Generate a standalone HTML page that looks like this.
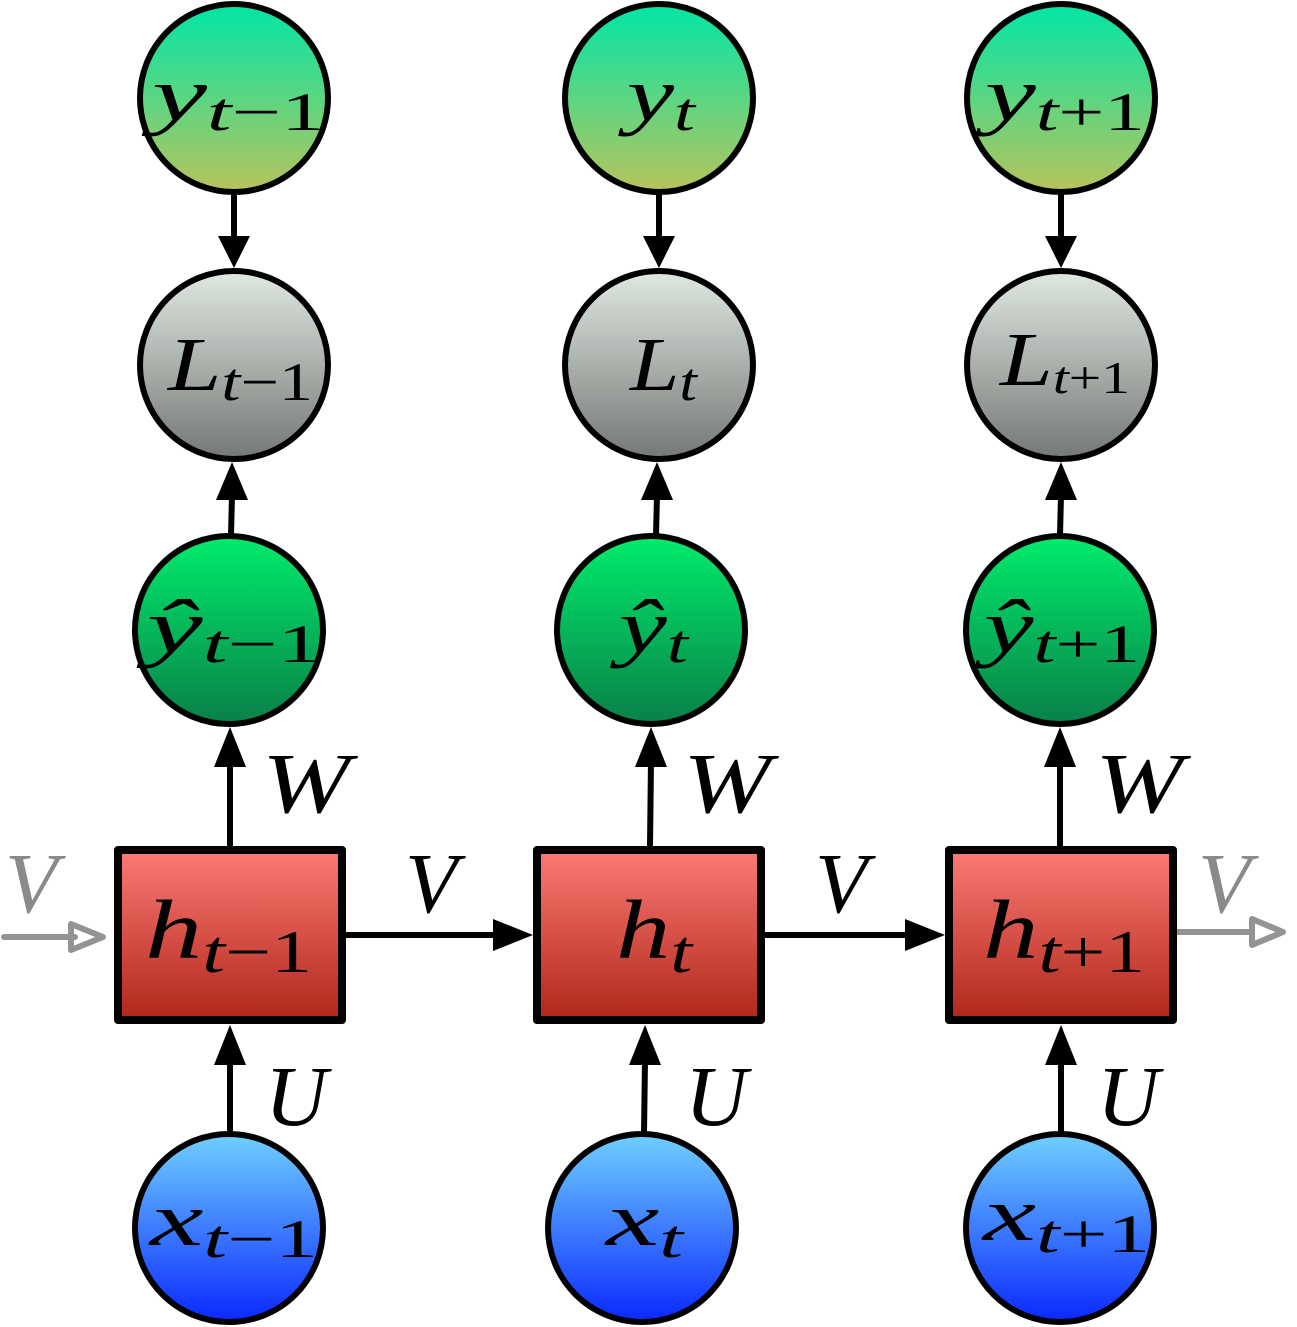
<!DOCTYPE html>
<html><head><meta charset="utf-8"><style>
html,body{margin:0;padding:0;background:#fff;}
svg{display:block}
text{font-family:"Liberation Serif",serif;font-style:italic;fill:#000}
</style></head><body>
<svg width="1297" height="1327" viewBox="0 0 1297 1327" xmlns="http://www.w3.org/2000/svg">
<defs>
<linearGradient id="gy" x1="0" y1="0" x2="0" y2="1"><stop offset="0" stop-color="#00e6a8"/><stop offset="1" stop-color="#b7c45c"/></linearGradient>
<linearGradient id="gl" x1="0" y1="0" x2="0" y2="1"><stop offset="0" stop-color="#e0e8e2"/><stop offset="1" stop-color="#757875"/></linearGradient>
<linearGradient id="gh" x1="0" y1="0" x2="0" y2="1"><stop offset="0" stop-color="#00ec6c"/><stop offset="1" stop-color="#0a8048"/></linearGradient>
<linearGradient id="gr" x1="0" y1="0" x2="0" y2="1"><stop offset="0" stop-color="#fb7b74"/><stop offset="1" stop-color="#b0261a"/></linearGradient>
<linearGradient id="gx" x1="0" y1="0" x2="0" y2="1"><stop offset="0" stop-color="#70d0ff"/><stop offset="1" stop-color="#0a28ff"/></linearGradient>
</defs>
<g stroke="#000" stroke-width="6">
<line x1="234" y1="193" x2="234" y2="240"/><line x1="659" y1="193" x2="659" y2="240"/><line x1="1061" y1="193" x2="1061" y2="240"/>
<line x1="231" y1="535" x2="232" y2="495"/><line x1="656" y1="535" x2="657" y2="495"/><line x1="1060" y1="535" x2="1061" y2="495"/>
<line x1="230" y1="846" x2="230" y2="760"/><line x1="650" y1="846" x2="651" y2="760"/><line x1="1060" y1="846" x2="1060" y2="760"/>
<line x1="230" y1="1133" x2="230" y2="1060"/><line x1="644" y1="1133" x2="645" y2="1060"/><line x1="1061" y1="1133" x2="1061" y2="1060"/>
<line x1="343" y1="935" x2="505" y2="935"/><line x1="762" y1="935" x2="915" y2="935"/>
</g>
<g fill="#000">
<polygon points="218,236 250,236 234,268"/><polygon points="643,236 675,236 659,268"/><polygon points="1045,236 1077,236 1061,268"/>
<polygon points="216,500 248,500 232,462"/><polygon points="641,500 673,500 657,462"/><polygon points="1045,500 1077,500 1061,462"/>
<polygon points="214,767 246,767 230,727"/><polygon points="635,767 667,767 651,727"/><polygon points="1044,767 1076,767 1060,727"/>
<polygon points="214,1065 246,1065 230,1025"/><polygon points="629,1065 661,1065 645,1025"/><polygon points="1045,1065 1077,1065 1061,1025"/>
<polygon points="493,919 493,951 533,935"/><polygon points="905,919 905,951 945,935"/>
</g>
<g stroke="#888" stroke-width="6" fill="none" opacity="0.9" stroke-linecap="round">
<line x1="4" y1="937" x2="75" y2="937"/><polygon points="71,924 71,950 103,937" stroke-linejoin="round"/>
<line x1="1177" y1="932" x2="1250" y2="932"/><polygon points="1252,919 1252,945 1283,932" stroke-linejoin="round"/>
</g>
<g stroke="#000" stroke-width="6">
<circle cx="234" cy="98" r="94" fill="url(#gy)"/><circle cx="659" cy="98" r="94" fill="url(#gy)"/><circle cx="1061" cy="98" r="94" fill="url(#gy)"/>
<circle cx="234" cy="365" r="94" fill="url(#gl)"/><circle cx="659" cy="365" r="94" fill="url(#gl)"/><circle cx="1061" cy="365" r="94" fill="url(#gl)"/>
<circle cx="229" cy="630" r="94" fill="url(#gh)"/><circle cx="651" cy="630" r="94" fill="url(#gh)"/><circle cx="1060" cy="630" r="94" fill="url(#gh)"/>
<circle cx="229" cy="1228" r="94" fill="url(#gx)"/><circle cx="642" cy="1228" r="94" fill="url(#gx)"/><circle cx="1060" cy="1228" r="94" fill="url(#gx)"/>
</g>
<g stroke="#000" stroke-width="8" stroke-linejoin="round">
<rect x="118" y="850" width="224" height="170" fill="url(#gr)"/>
<rect x="537" y="850" width="224" height="170" fill="url(#gr)"/>
<rect x="949" y="850" width="224" height="170" fill="url(#gr)"/>
</g>
<g font-size="76">
<text x="152" y="120" textLength="173" lengthAdjust="spacingAndGlyphs">y<tspan font-size="54" dy="10">t</tspan><tspan font-size="54" font-style="normal">−1</tspan></text>
<text x="627" y="120" textLength="68" lengthAdjust="spacingAndGlyphs">y<tspan font-size="54" dy="10">t</tspan></text>
<text x="985" y="120" textLength="160" lengthAdjust="spacingAndGlyphs">y<tspan font-size="54" dy="10">t</tspan><tspan font-size="54" font-style="normal">+1</tspan></text>
<text x="168" y="390" textLength="145" lengthAdjust="spacingAndGlyphs">L<tspan font-size="54" dy="10">t</tspan><tspan font-size="54" font-style="normal">−1</tspan></text>
<text x="630" y="390" textLength="67" lengthAdjust="spacingAndGlyphs">L<tspan font-size="54" dy="10">t</tspan></text>
<text x="1000" y="385" textLength="130" lengthAdjust="spacingAndGlyphs">L<tspan font-size="46" dy="8">t</tspan><tspan font-size="46" font-style="normal">+1</tspan></text>
<text x="147" y="652" textLength="175" lengthAdjust="spacingAndGlyphs">ŷ<tspan font-size="54" dy="10">t</tspan><tspan font-size="54" font-style="normal">−1</tspan></text>
<text x="619" y="652" textLength="69" lengthAdjust="spacingAndGlyphs">ŷ<tspan font-size="54" dy="10">t</tspan></text>
<text x="984" y="652" textLength="156" lengthAdjust="spacingAndGlyphs">ŷ<tspan font-size="54" dy="10">t</tspan><tspan font-size="54" font-style="normal">+1</tspan></text>
<text x="145" y="958" font-size="84" textLength="167" lengthAdjust="spacingAndGlyphs">h<tspan font-size="60" dy="14">t</tspan><tspan font-size="60" font-style="normal">−1</tspan></text>
<text x="616" y="958" font-size="84" textLength="76" lengthAdjust="spacingAndGlyphs">h<tspan font-size="60" dy="14">t</tspan></text>
<text x="983" y="958" font-size="84" textLength="162" lengthAdjust="spacingAndGlyphs">h<tspan font-size="60" dy="14">t</tspan><tspan font-size="60" font-style="normal">+1</tspan></text>
<text x="150" y="1245" textLength="168" lengthAdjust="spacingAndGlyphs">x<tspan font-size="54" dy="12">t</tspan><tspan font-size="54" font-style="normal">−1</tspan></text>
<text x="606" y="1245" textLength="77" lengthAdjust="spacingAndGlyphs">x<tspan font-size="54" dy="12">t</tspan></text>
<text x="983" y="1240" textLength="167" lengthAdjust="spacingAndGlyphs">x<tspan font-size="54" dy="12">t</tspan><tspan font-size="54" font-style="normal">+1</tspan></text>
</g>
<g font-size="86">
<text x="262" y="812" textLength="88" lengthAdjust="spacingAndGlyphs">W</text><text x="683" y="812" textLength="88" lengthAdjust="spacingAndGlyphs">W</text><text x="1095" y="812" textLength="88" lengthAdjust="spacingAndGlyphs">W</text>
<text x="265" y="1125">U</text><text x="685" y="1125">U</text><text x="1097" y="1125">U</text>
<text x="405" y="912">V</text><text x="815" y="912">V</text>
<text x="5" y="912" style="fill:#8a8a8a">V</text><text x="1198" y="912" style="fill:#8a8a8a">V</text>
</g>
</svg>
</body></html>
